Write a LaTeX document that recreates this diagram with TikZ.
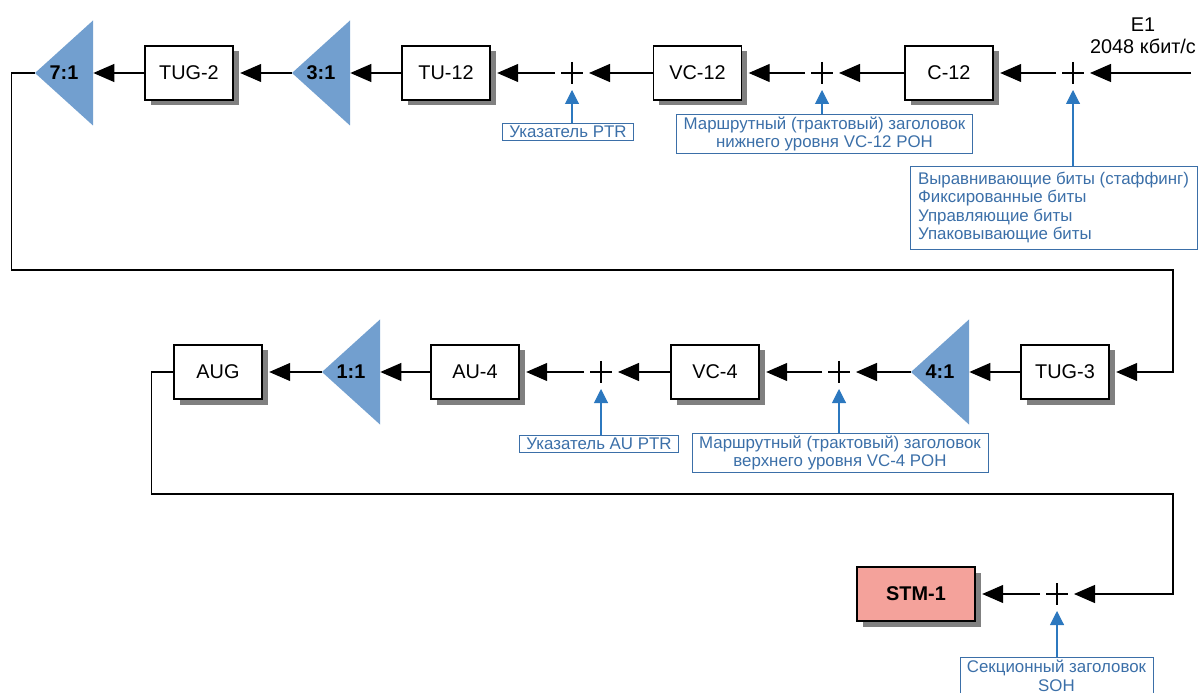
\documentclass[tikz,border=0pt]{standalone}
\usepackage{fontspec}
\setmainfont{Liberation Sans}
\usetikzlibrary{arrows.meta}
\definecolor{triblue}{HTML}{729FCF}
\definecolor{labelblue}{HTML}{3B6FA8}
\definecolor{hintblue}{HTML}{2C78BF}
\definecolor{stmred}{HTML}{F4A29B}

\begin{document}
\begin{tikzpicture}[font=\fontsize{11.3}{13}\selectfont,
    >={Triangle[length=0.42cm,width=0.36cm]},
    box/.style={draw, thick, fill=#1, minimum width=1.76cm, minimum height=1.08cm,
                preaction={draw=none, fill=black!50,
                           transform canvas={xshift=0.11cm, yshift=-0.11cm}}},
    box/.default=white,
    mux/.style={minimum width=1.16cm, minimum height=2.1cm, inner sep=0pt,
                font=\fontsize{11.3}{13}\selectfont\bfseries,
                path picture={\fill[triblue] (path picture bounding box.north east)
                  -- (path picture bounding box.west)
                  -- (path picture bounding box.south east) -- cycle;}},
    adder/.style={minimum size=0.44cm, inner sep=0pt, outer sep=0.12cm,
                  path picture={\draw[thick]
                    (path picture bounding box.north) -- (path picture bounding box.south)
                    (path picture bounding box.west) -- (path picture bounding box.east);}},
    info/.style={draw=labelblue, text=labelblue, align=center,
                 inner xsep=0.14cm, inner ysep=0.05cm,
                 font=\fontsize{9.6}{10.6}\selectfont},
    flow/.style={->, line width=0.7pt},
    into/.style={shorten >=0.13cm},
    hint/.style={-{Triangle[length=0.28cm,width=0.28cm]}, hintblue, line width=0.6pt}]

  \useasboundingbox (0,0) rectangle (23.98,-13.86);

  %% Top row
  \node[mux] (m71) at (1.28,-1.46) {7:1};
  \node[box] (tug2) at (3.78,-1.46) {TUG-2};
  \node[mux] (m31) at (6.42,-1.46) {3:1};
  \node[box] (tu12) at (8.92,-1.46) {TU-12};
  \node[adder] (s1) at (11.44,-1.46) {};
  \node[box] (vc12) at (13.95,-1.46) {VC-12};
  \node[adder] (s2) at (16.44,-1.46) {};
  \node[box] (c12) at (18.98,-1.46) {C-12};
  \node[adder] (s3) at (21.46,-1.46) {};
  \coordinate (e1in) at (23.82,-1.46);
  \node[align=center, font=\fontsize{11.3}{12.5}\selectfont] (e1) at (22.86,-0.72)
    {E1\\2048 кбит/с};

  %% Bottom row
  \node[box] (aug) at (4.36,-7.44) {AUG};
  \node[mux] (m11) at (7.02,-7.44) {1:1};
  \node[box] (au4) at (9.50,-7.44) {AU-4};
  \node[adder] (s4) at (12.02,-7.44) {};
  \node[box] (vc4) at (14.30,-7.44) {VC-4};
  \node[adder] (s5) at (16.78,-7.44) {};
  \node[mux] (m41) at (18.80,-7.44) {4:1};
  \node[box] (tug3) at (21.30,-7.44) {TUG-3};

  %% STM-1
  \node[box=stmred, minimum width=2.36cm,
        font=\fontsize{11.3}{13}\selectfont\bfseries] (stm) at (18.32,-11.88) {STM-1};
  \node[adder] (s6) at (21.14,-11.88) {};

  %% Overhead labels
  \node[info] (lptr) at (11.36,-2.64) {Указатель PTR};
  \node[info, minimum width=5.9cm] (lpoh12) at (16.49,-2.68)
    {Маршрутный (трактовый) заголовок\\нижнего уровня VC-12 POH};
  \node[info, align=left, minimum width=5.74cm, minimum height=1.66cm] (lbits) at (21.07,-4.15)
    {Выравнивающие биты (стаффинг)\\Фиксированные биты\\Управляющие биты\\Упаковывающие биты};
  \node[info] (lauptr) at (11.98,-8.87) {Указатель AU PTR};
  \node[info, minimum width=5.84cm] (lpoh4) at (16.80,-9.06)
    {Маршрутный (трактовый) заголовок\\верхнего уровня VC-4 POH};
  \node[info, minimum width=3.74cm] (lsoh) at (21.13,-13.52)
    {Секционный заголовок\\SOH};

  %% Main flow, top row
  \draw[flow] (e1in) -- (s3);
  \draw[flow, into] (s3) -- (c12);
  \draw[flow] (c12) -- (s2);
  \draw[flow, into] (s2) -- (vc12);
  \draw[flow] (vc12) -- (s1);
  \draw[flow, into] (s1) -- (tu12);
  \draw[flow] (tu12) -- (m31);
  \draw[flow, into] (m31) -- (tug2);
  \draw[flow] (tug2) -- (m71);
  \draw[flow, into] (m71.west) -- ++(-0.46,0) |- (23.46,-5.40) |- (tug3.east);

  %% Main flow, bottom row
  \draw[flow] (tug3) -- (m41);
  \draw[flow] (m41) -- (s5);
  \draw[flow, into] (s5) -- (vc4);
  \draw[flow] (vc4) -- (s4);
  \draw[flow, into] (s4) -- (au4);
  \draw[flow] (au4) -- (m11);
  \draw[flow, into] (m11) -- (aug);
  \draw[flow] (aug.west) -- ++(-0.44,0) |- (23.46,-9.88) |- (s6.east);
  \draw[flow, into] (s6) -- (stm);

  %% Overheads added
  \draw[hint] (lptr.north -| s1) -- (s1);
  \draw[hint] (lpoh12.north -| s2) -- (s2);
  \draw[hint] (lbits.north -| s3) -- (s3);
  \draw[hint] (lauptr.north -| s4) -- (s4);
  \draw[hint] (lpoh4.north -| s5) -- (s5);
  \draw[hint] (lsoh.north -| s6) -- (s6);
\end{tikzpicture}
\end{document}
